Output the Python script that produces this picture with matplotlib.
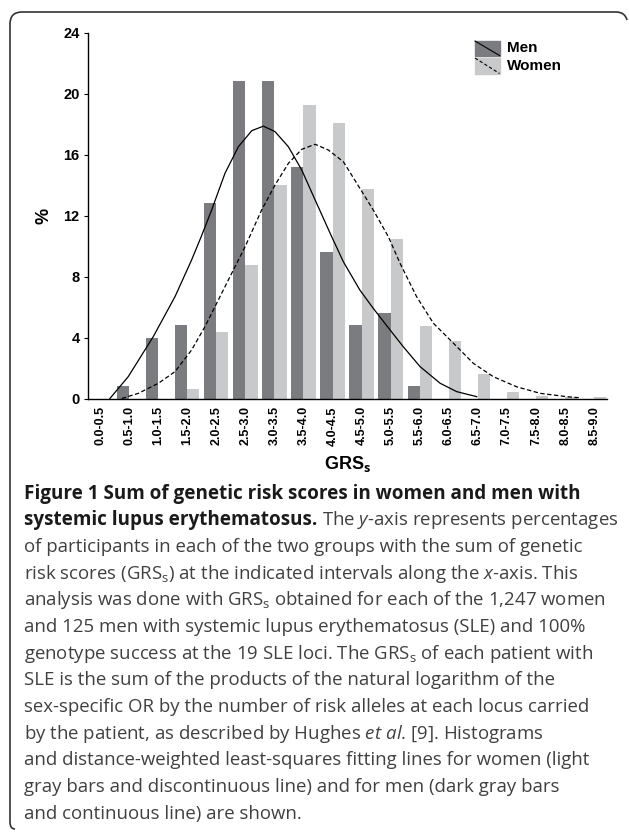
import numpy as np
import matplotlib
matplotlib.use("Agg")
import matplotlib.pyplot as plt
from matplotlib.patches import Rectangle, PathPatch
from matplotlib.path import Path

# ---- data ----
bins = ["0.0-0.5", "0.5-1.0", "1.0-1.5", "1.5-2.0", "2.0-2.5", "2.5-3.0",
        "3.0-3.5", "3.5-4.0", "4.0-4.5", "4.5-5.0", "5.0-5.5", "5.5-6.0",
        "6.0-6.5", "6.5-7.0", "7.0-7.5", "7.5-8.0", "8.0-8.5", "8.5-9.0"]
men = [0, 0.8, 4.0, 4.8, 12.8, 20.8, 20.8, 15.2, 9.6, 4.8, 5.6, 0.8,
       0, 0, 0, 0, 0, 0]
women = [0, 0, 0, 0.64, 4.33, 8.74, 14.03, 19.25, 18.04, 13.71, 10.43, 4.73,
         3.77, 1.60, 0.40, 0.16, 0.08, 0.08]

# fitted lines (x in bin index units)
men_fit_x = [0.34, 0.97, 1.83, 2.58, 3.15, 3.50, 3.84, 4.30, 4.76, 5.22, 5.62,
             6.02, 6.48, 6.94, 7.40, 7.97, 8.37, 8.94, 9.40, 9.98, 10.43,
             11.01, 11.70, 12.27, 12.96]
men_fit_y = [0, 1.43, 4.05, 6.68, 9.08, 10.7, 12.36, 14.77, 16.51, 17.56, 17.86,
             17.5, 16.51, 14.98, 13.02, 10.61, 8.97, 7.11, 5.91, 4.49, 3.40,
             2.09, 1.0, 0.45, 0.12]
women_fit_x = [0.75, 1.32, 2.01, 2.58, 3.15, 3.61, 4.07, 4.53, 4.99, 5.56, 6.02,
               6.48, 6.94, 7.40, 7.85, 8.37, 8.94, 9.40, 9.92, 10.32, 10.89,
               11.47, 12.16, 12.84, 13.53, 14.33, 15.14, 16.05, 16.5]
women_fit_y = [0, 0.34, 1.0, 1.76, 3.18, 4.71, 6.46, 8.21, 9.95, 12.36, 14.0,
               15.42, 16.34, 16.67, 16.3, 15.53, 13.78, 12.36, 10.61, 8.87, 6.68,
               4.93, 3.62, 2.31, 1.43, 0.77, 0.34, 0.12, 0.05]

caption = [
    "of participants in each of the two groups with the sum of genetic",
    r"risk scores (GRS$_\mathrm{s}$) at the indicated intervals along the $\mathit{x}$-axis. This",
    r"analysis was done with GRS$_\mathrm{s}$ obtained for each of the 1,247 women",
    "and 125 men with systemic lupus erythematosus (SLE) and 100%",
    r"genotype success at the 19 SLE loci. The GRS$_\mathrm{s}$ of each patient with",
    "SLE is the sum of the products of the natural logarithm of the",
    "sex-specific OR by the number of risk alleles at each locus carried",
    r"by the patient, as described by Hughes $\mathit{et\ al}$. [9]. Histograms",
    "and distance-weighted least-squares fitting lines for women (light",
    "gray bars and discontinuous line) and for men (dark gray bars",
    "and continuous line) are shown.",
]

W, H = 629, 832
plt.rcParams['mathtext.fontset'] = 'custom'
plt.rcParams['mathtext.rm'] = 'Open Sans'
plt.rcParams['mathtext.it'] = 'Open Sans:italic'
plt.rcParams['mathtext.bf'] = 'Open Sans:bold'
chart_font = ['Liberation Sans Narrow', 'Liberation Sans']

fig = plt.figure(figsize=(W / 100, H / 100), dpi=100)
dark = '#7b7c80'
light = '#c8c9cb'

# ---- chart ----
x0, x1 = 88, 606.7
y0, y1 = 398.5, 32.5
ax = fig.add_axes([x0 / W, (H - y0) / H, (x1 - x0) / W, (y0 - y1) / H])
idx = np.arange(len(bins))
bw = 0.42
ax.bar(idx - bw / 2, men, width=bw, color=dark, zorder=2)
ax.bar(idx + bw / 2, women, width=bw, color=light, zorder=2)
ax.plot(men_fit_x, men_fit_y, color='black', lw=0.9, zorder=3)
ax.plot(women_fit_x, women_fit_y, color='black', lw=0.9, dashes=(3.5, 2), zorder=3)

ax.set_xlim(-0.413, 17.43)
ax.set_ylim(0, 24)
ax.set_yticks([0, 4, 8, 12, 16, 20, 24])
ax.set_xticks(idx)
ax.set_xticklabels(bins, rotation=90, fontsize=9, fontweight='bold', family=chart_font)
for lab in ax.get_yticklabels():
    lab.set_fontsize(10.5)
    lab.set_fontweight('bold')
    lab.set_family(chart_font)
ax.tick_params(axis='x', length=0, pad=5.5)
ax.tick_params(axis='y', length=3, width=0.8, pad=3)
for s in ['top', 'right']:
    ax.spines[s].set_visible(False)
for s in ['left', 'bottom']:
    ax.spines[s].set_linewidth(1.0)
ax.set_ylabel('%', fontsize=13, fontweight='bold', family=chart_font, labelpad=8)
ax.set_xlabel(r'GRS$_\mathbf{s}$', fontsize=13, fontweight='bold', family=chart_font, labelpad=6)

# ---- overlay: frame, legend, caption ----
ov = fig.add_axes([0, 0, 1, 1], zorder=5)
ov.set_xlim(0, W)
ov.set_ylim(H, 0)
ov.axis('off')
ov.patch.set_alpha(0)

verts = [(15, 829), (10, 829), (10, 822), (10, 24), (10, 12), (22, 12),
         (616, 12), (625, 12), (627, 20)]
codes = [Path.MOVETO, Path.CURVE3, Path.CURVE3, Path.LINETO, Path.CURVE3, Path.CURVE3,
         Path.LINETO, Path.CURVE3, Path.CURVE3]
ov.add_patch(PathPatch(Path(verts, codes), fill=False, lw=1.2, edgecolor='#333333'))

# legend
ov.add_patch(Rectangle((475, 41), 24.5, 14.5, color=dark))
ov.plot([475, 499.5], [41, 55.5], color='black', lw=0.8)
ov.add_patch(Rectangle((475, 58), 24.5, 15.5, color=light))
ov.plot([475, 499.5], [58, 73.5], color='black', lw=0.8, dashes=(3, 2))
ov.text(507, 48.5, 'Men', fontsize=11, fontweight='bold', family=chart_font, va='center')
ov.text(507, 66, 'Women', fontsize=11, fontweight='bold', family=chart_font, va='center')

# caption
cap_font = 'Open Sans'
cap_size = 13.4
bold_size = 13.6
lx = 24
base0 = 498.5
step = 26.67
bold_col = '#1a1a1a'
reg_col = '#404040'
ov.text(lx, base0, 'Figure 1 Sum of genetic risk scores in women and men with',
        fontsize=bold_size, fontweight='bold', family=cap_font, color=bold_col, va='baseline')
t = ov.text(lx, base0 + step, 'systemic lupus erythematosus.',
            fontsize=bold_size, fontweight='bold', family=cap_font, color=bold_col, va='baseline')
r = fig.canvas.get_renderer()
w_bold = t.get_window_extent(r).width
probe1 = ov.text(0, 0, 'a a', fontsize=cap_size, family=cap_font)
probe2 = ov.text(0, 0, 'aa', fontsize=cap_size, family=cap_font)
gap = probe1.get_window_extent(r).width - probe2.get_window_extent(r).width
probe1.remove()
probe2.remove()
ov.text(lx + w_bold + gap, base0 + step, r'The $\mathit{y}$-axis represents percentages',
        fontsize=cap_size, family=cap_font, color=reg_col, va='baseline')
for i, line in enumerate(caption):
    ov.text(lx, base0 + step * (i + 2), line, fontsize=cap_size, family=cap_font,
            color=reg_col, va='baseline')

fig.savefig('out.png', dpi=100)
